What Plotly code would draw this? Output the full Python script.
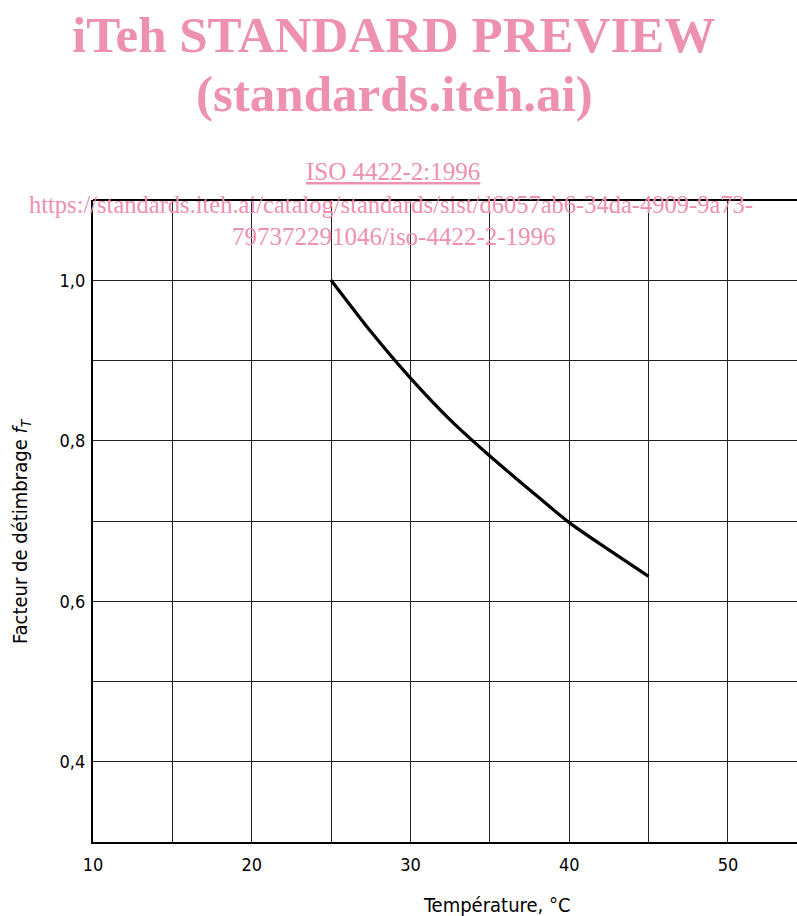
import plotly.graph_objects as go

# Data
temperature = [25, 27.5, 30, 32.5, 35, 37.5, 40, 42.5, 45]
factor_fT = [1.0, 0.936, 0.878, 0.826, 0.781, 0.739, 0.698, 0.664, 0.631]

x_tickvals = [10, 20, 30, 40, 50]
x_ticktext = ["10", "20", "30", "40", "50"]
y_tickvals = [0.4, 0.6, 0.8, 1.0]
y_ticktext = ["0,4", "0,6", "0,8", "1,0"]

W, H = 797, 916
ML, MR, MT, MB = 93, 0, 200, 74
PW, PH = W - ML - MR, H - MT - MB

def px(x):
    return (x - ML) / PW

def py(y):
    return (H - MB - y) / PH

PINK = "#EE90B0"
SERIF = "Liberation Serif, Times New Roman, serif"
SANS = "DejaVu Sans Condensed, DejaVu Sans, sans-serif"

fig = go.Figure()
fig.add_trace(go.Scatter(
    x=temperature, y=factor_fT, mode="lines",
    line=dict(color="black", width=3.2, shape="spline", smoothing=0.6),
    showlegend=False, hoverinfo="skip"))

fig.update_layout(
    width=W, height=H,
    margin=dict(l=ML, r=MR, t=MT, b=MB),
    paper_bgcolor="white", plot_bgcolor="white",
    font=dict(family=SANS, size=17, color="black"),
    xaxis=dict(
        range=[10, 54.35], tickvals=x_tickvals, ticktext=x_ticktext,
        showgrid=True, gridcolor="#222", gridwidth=1,
        minor=dict(tickmode="linear", tick0=10, dtick=5, showgrid=True,
                   gridcolor="#222", gridwidth=1),
        showline=True, linecolor="black", linewidth=2.2,
        zeroline=False, ticks="", ticklabelstandoff=5,
        tickfont=dict(family=SANS, size=18)),
    yaxis=dict(
        range=[0.3, 1.1], tickvals=y_tickvals, ticktext=y_ticktext,
        showgrid=True, gridcolor="#222", gridwidth=1,
        minor=dict(tickmode="linear", tick0=0.3, dtick=0.1, showgrid=True,
                   gridcolor="#222", gridwidth=1),
        showline=True, linecolor="black", linewidth=2.2,
        zeroline=False, ticks="", ticklabelstandoff=2,
        tickfont=dict(family=SANS, size=18)),
    shapes=[dict(type="line", xref="paper", yref="paper", x0=0, x1=1, y0=1, y1=1,
                 line=dict(color="black", width=2.2))],
)

annotations = [
    dict(text="<b>iTeh STANDARD PREVIEW</b>", x=px(393), y=py(35),
         font=dict(family=SERIF, size=51, color=PINK)),
    dict(text="<b>(standards.iteh.ai)</b>", x=px(394), y=py(94),
         font=dict(family=SERIF, size=51, color=PINK)),
    dict(text="<u>ISO 4422-2:1996</u>", x=px(393), y=py(171.5),
         font=dict(family=SERIF, size=25, color=PINK)),
    dict(text="https://standards.iteh.ai/catalog/standards/sist/d6057ab6-34da-4909-9a73-",
         x=px(391), y=py(204.5), font=dict(family=SERIF, size=24.5, color=PINK)),
    dict(text="797372291046/iso-4422-2-1996", x=px(394), y=py(236.5),
         font=dict(family=SERIF, size=25, color=PINK)),
    dict(text="Température, °C", x=px(497), y=py(905),
         font=dict(family=SANS, size=20, color="black")),
    dict(text="Facteur de détimbrage <i>f</i><sub><i>T</i></sub>", x=px(21), y=py(531),
         textangle=-90, font=dict(family=SANS, size=20, color="black")),
]
for a in annotations:
    a.update(xref="paper", yref="paper", showarrow=False,
             xanchor="center", yanchor="middle")
fig.update_layout(annotations=annotations)

fig.write_html("out.html", config={"displayModeBar": False},
               post_script="document.body.style.margin='0';")
